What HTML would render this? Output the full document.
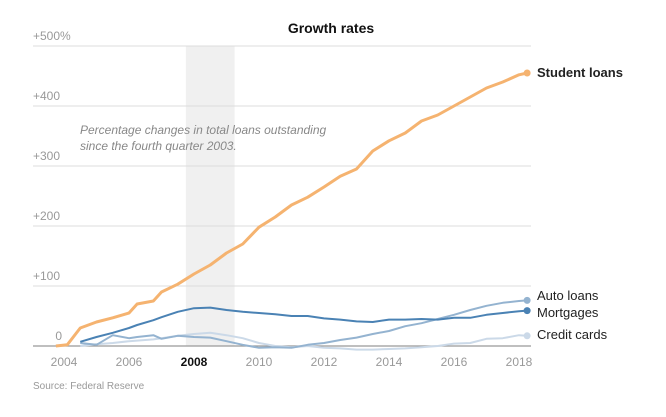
<!DOCTYPE html>
<html><head><meta charset="utf-8"><style>
body{margin:0;background:#fff;width:666px;height:412px;overflow:hidden;font-family:"Liberation Sans",sans-serif}
</style></head><body>
<svg id="c" width="666" height="412" font-family="Liberation Sans, sans-serif">
<text x="331" y="33" text-anchor="middle" font-size="14" font-weight="bold" fill="#111">Growth rates</text>
<g id="grid"></g>
<g id="series"></g>
<text x="80" y="134" font-size="12" font-style="italic" fill="#888">Percentage changes in total loans outstanding</text>
<text x="80" y="150" font-size="12" font-style="italic" fill="#888">since the fourth quarter 2003.</text>
<text x="33" y="389" font-size="10" fill="#999">Source: Federal Reserve</text>
</svg>
<script>
const yTicks=[0,100,200,300,400,500];
const yTickLabels=["0","+100","+200","+300","+400","+500%"];
const xTicks=[2004,2006,2008,2010,2012,2014,2016,2018];
const recession=[2007.75,2009.25];
const years=[2003.75,2004.1,2004.5,2005,2005.5,2006,2006.25,2006.75,2007,2007.5,2008,2008.5,2009,2009.5,2010,2010.5,2011,2011.5,2012,2012.5,2013,2013.5,2014,2014.5,2015,2015.5,2016,2016.5,2017,2017.5,2018,2018.25];
const studentLoans=[0,2,30,40,47,55,70,75,90,103,120,135,155,170,198,215,235,248,265,283,295,325,342,355,375,385,400,415,430,440,452,455];
const mortgages=[null,null,7,15,22,30,35,43,48,57,63,64,60,57,55,53,50,50,46,44,41,40,44,44,45,44,47,47,52,55,58,59];
const autoLoans=[null,null,5,2,18,13,15,18,12,17,15,14,8,2,-3,-2,-3,2,5,10,14,20,25,33,38,45,52,60,67,72,75,76];
const creditCards=[null,null,0,3,5,8,9,11,13,17,20,22,18,13,5,0,-2,0,-3,-4,-6,-6,-5,-4,-2,0,4,5,12,13,18,17];
const x=v=>64+(v-2004)*32.5;
const y=v=>346-v*0.6;
const NS="http://www.w3.org/2000/svg";
function mk(tag,attrs,parent){const e=document.createElementNS(NS,tag);for(const k in attrs)e.setAttribute(k,attrs[k]);parent.appendChild(e);return e;}
const g=document.getElementById('grid'),s=document.getElementById('series');
let r=mk('rect',{x:x(recession[0]),y:y(500),width:x(recession[1])-x(recession[0]),height:y(0)-y(500),fill:'#f0f0f0'},g);


yTicks.forEach((t,i)=>{
 const l=mk('line',{x1:33,x2:531,y1:y(t),y2:y(t),stroke:t===0?'#999':'#ddd','stroke-width':t===0?1.2:1},g);
 
 
 const tx=mk('text',{x:t===0?62:33,y:y(t)-6,'font-size':12,fill:'#999','text-anchor':t===0?'end':'start'},g);
 tx.textContent=yTickLabels[i];
 
 
});
xTicks.forEach(t=>{
 const tx=mk('text',{x:x(t),y:366,'font-size':12,fill:t===2008?'#111':'#999','font-weight':t===2008?'bold':'normal','text-anchor':'middle'},g);
 tx.textContent=t;
 
 
});
function draw(vals,color,name,label,ly,bold){
 let d='',first=true;
 vals.forEach((v,i)=>{if(v===null)return;d+=(first?'M':'L')+x(years[i])+','+y(v);first=false;});
 const p=mk('path',{d,fill:'none',stroke:color,'stroke-width':bold?3:2,'stroke-linejoin':'round'},s);
 
 
 const n=vals.length-1;
 const c=mk('circle',{cx:x(years[n]),cy:y(vals[n]),r:3.5,fill:color},s);
 
 
 const t=mk('text',{x:537,y:ly,'font-size':13,fill:'#222','font-weight':bold?'bold':'normal'},s);
 t.textContent=label;
 
 
}
draw(creditCards,'#cbd9e8','credit-cards','Credit cards',339,false);
draw(autoLoans,'#94b3d0','auto-loans','Auto loans',300,false);
draw(mortgages,'#4a82b4','mortgages','Mortgages',317,false);
draw(studentLoans,'#f5b370','student-loans','Student loans',77,true);
</script>
</body></html>
